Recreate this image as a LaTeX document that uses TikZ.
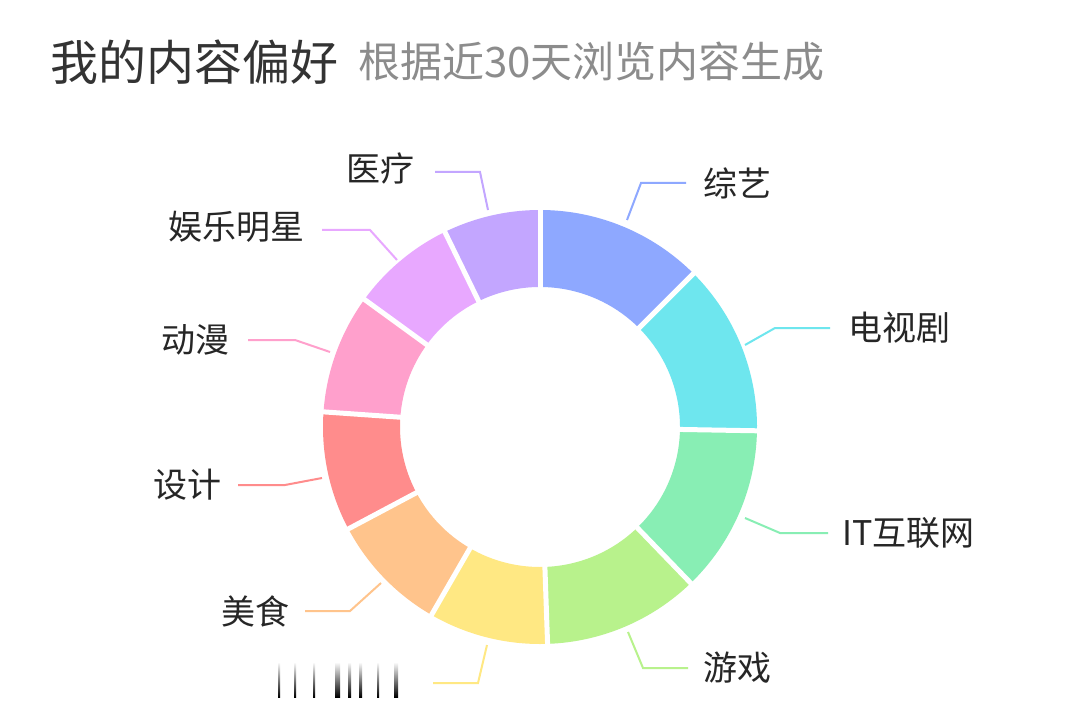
\documentclass[tikz,border=0pt]{standalone}
\usepackage{fontspec}
\setmainfont{Noto Sans CJK SC}
\usetikzlibrary{positioning}
\definecolor{czy}{HTML}{8EA8FF}
\definecolor{cds}{HTML}{6EE6EE}
\definecolor{cit}{HTML}{88EEB4}
\definecolor{cyx}{HTML}{B8F28C}
\definecolor{cye}{HTML}{FFE883}
\definecolor{cms}{HTML}{FFC48C}
\definecolor{csj}{HTML}{FF8C8C}
\definecolor{cdm}{HTML}{FFA0CC}
\definecolor{cyl}{HTML}{E8A8FF}
\definecolor{cyl2}{HTML}{C3A6FF}
\tikzset{
  lab/.style={font=\fontsize{34}{38}\selectfont, text=black!85, inner sep=0pt},
  lead/.style={line width=2pt},
}
\begin{document}
\begin{tikzpicture}[x=1pt,y=-1pt]
\useasboundingbox[fill=white] (0,0) rectangle (1078,711);

% title
\node[anchor=west, inner sep=0pt, font=\fontsize{48}{52}\selectfont, text=black!80] (title) at (50,62) {我的内容偏好};
\node[anchor=west, inner sep=0pt, font=\fontsize{42}{46}\selectfont, text=black!45] (sub) at (358,62) {根据近30天浏览内容生成};

% donut
\begin{scope}[shift={(540,427)}, yscale=-1]
\foreach \a/\b/\c in {90/45/czy, 45/-1/cds, -1/-46/cit, -46/-88/cyx, -88/-120/cye,
  -120/-152/cms, -152/-184/csj, -184/-216/cdm, -216/-244/cyl, -244/-270/cyl2}
  \fill[\c] (\a:217) arc (\a:\b:217) -- (\b:140) arc (\b:\a:140) -- cycle;
\foreach \a in {90,45,-1,-46,-88,-120,-152,-184,-216,-244}
  \draw[white, line width=5pt] (\a:135) -- (\a:222);
\end{scope}

% labels
\node[lab, anchor=west] (zy) at (703,183) {综艺};
\node[lab, anchor=west] (ds) at (848,328) {电视剧};
\node[lab, anchor=west] (it) at (842,533) {IT互联网};
\node[lab, anchor=west] (yx) at (703,668) {游戏};
\node[lab, anchor=east] (ms) at (290,611) {美食};
\node[lab, anchor=east] (sj) at (222,485) {设计};
\node[lab, anchor=east] (dm) at (230,340) {动漫};
\node[lab, anchor=east] (yl) at (305,227) {娱乐明星};
\node[lab, anchor=east] (yy) at (415,169) {医疗};

% clipped label
\foreach \x/\w in {278/2, 294/2, 313/2, 335/5, 348/3, 359/3, 377/2, 394/4}
  \shade[top color=white, bottom color=black] (\x,662) rectangle (\x+\w,697);

% leaders
\draw[lead, czy] (627,220) -- (641,183) -- (686,183);
\draw[lead, cds] (745,345) -- (775,328) -- (830,328);
\draw[lead, cit] (745,518) -- (780,533) -- (828,533);
\draw[lead, cyx] (628,632) -- (643,668) -- (688,668);
\draw[lead, cye] (487,645) -- (478,683) -- (433,683);
\draw[lead, cms] (381,583) -- (350,611) -- (305,611);
\draw[lead, csj] (322,478) -- (285,485) -- (238,485);
\draw[lead, cdm] (330,352) -- (295,340) -- (248,340);
\draw[lead, cyl] (397,260) -- (370,230) -- (322,230);
\draw[lead, cyl2] (488,210) -- (480,172) -- (435,172);
\end{tikzpicture}
\end{document}
